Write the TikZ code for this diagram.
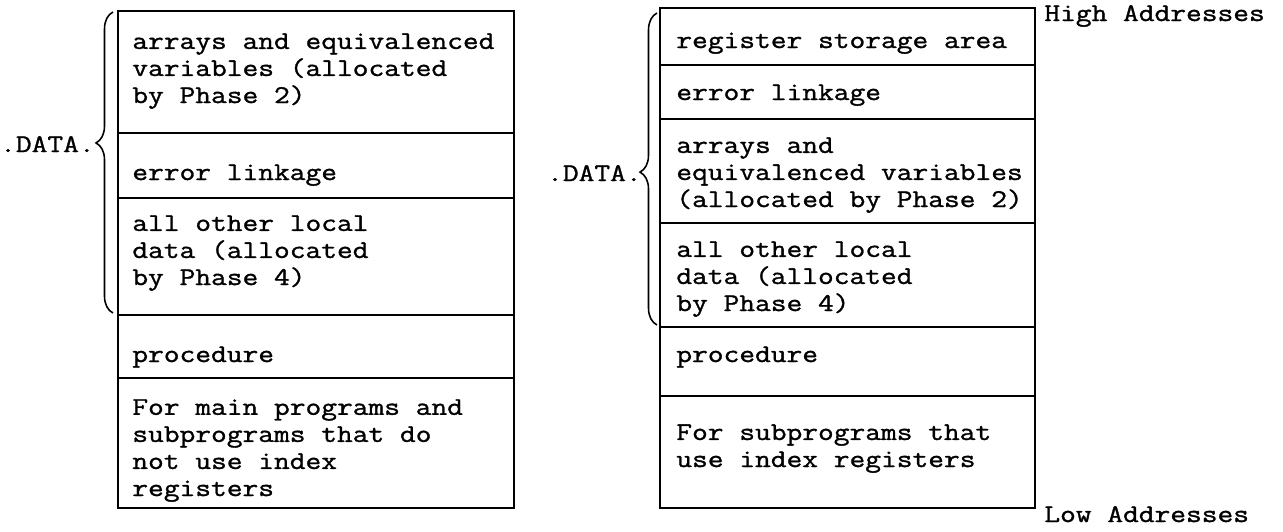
\documentclass[tikz,border=0pt]{standalone}
\usepackage{fontspec}
\newfontfamily\memfont{Latin Modern Mono}[FakeStretch=1.2, FakeBold=1.2]
\usepackage{tikz}
\usetikzlibrary{decorations.pathreplacing}
\tikzset{
    cellbox/.style={draw=black, line width=1.1pt},
    celltext/.style={anchor=base west, align=left, inner sep=0pt,
        font=\memfont\fontsize{14.5}{15.4}\selectfont},
    datalabel/.style={anchor=base east, inner sep=0pt,
        font=\memfont\fontsize{14.5}{15.4}\selectfont},
    addrlabel/.style={anchor=base west, inner sep=0pt,
        font=\memfont\fontsize{14.5}{15.4}\selectfont},
    databrace/.style={draw=black, line width=0.9pt, decorate},
}

\begin{document}
\begin{tikzpicture}[x=0.02cm, y=-0.02cm]
\useasboundingbox (0,0) rectangle (1283,531);
% left stack: main programs
\draw[cellbox] (118,11) rectangle (514,133);
\draw[cellbox] (118,133) rectangle (514,198);
\draw[cellbox] (118,198) rectangle (514,315);
\draw[cellbox] (118,315) rectangle (514,378);
\draw[cellbox] (118,378) rectangle (514,508);
% (multi-line texts sit on the baseline of their last line)
\node[celltext] (larrays) at (132,103) {arrays and equivalenced\\variables (allocated\\by Phase 2)};
\node[celltext] (lerror) at (132,180) {error linkage};
\node[celltext] (lother) at (132,285) {all other local\\data (allocated\\by Phase 4)};
\node[celltext] (lproc) at (132,362) {procedure};
\node[celltext] (lmain) at (132,496) {For main programs and\\subprograms that do\\not use index\\registers};
\coordinate (lbtop) at (113,12);
\coordinate (lbbot) at (113,313);
\draw[databrace, decoration={brace, amplitude=0.34cm, aspect=0.565}] (lbbot) -- (lbtop);
\node[datalabel] (ldata) at (95,152) {.DATA.};
% right stack: subprograms with index registers
\draw[cellbox] (660,8) rectangle (1035,65);
\draw[cellbox] (660,65) rectangle (1035,119);
\draw[cellbox] (660,119) rectangle (1035,223);
\draw[cellbox] (660,223) rectangle (1035,327);
\draw[cellbox] (660,327) rectangle (1035,396);
\draw[cellbox] (660,396) rectangle (1035,508);
\node[celltext] (rreg) at (676,48) {register storage area};
\node[celltext] (rerror) at (676,100) {error linkage};
\node[celltext] (rarrays) at (676,207) {arrays and\\equivalenced variables\\(allocated by Phase 2)};
\node[celltext] (rother) at (676,311) {all other local\\data (allocated\\by Phase 4)};
\node[celltext] (rproc) at (676,362) {procedure};
\node[celltext] (rsub) at (676,467) {For subprograms that\\use index registers};
\coordinate (rbtop) at (657,13);
\coordinate (rbbot) at (657,325);
\draw[databrace, decoration={brace, amplitude=0.34cm, aspect=0.49}] (rbbot) -- (rbtop);
\node[datalabel] (rdata) at (642,181) {.DATA.};
\node[addrlabel] (high) at (1044,21) {High Addresses};
\node[addrlabel] (low) at (1044,522) {Low Addresses};
\end{tikzpicture}
\end{document}
